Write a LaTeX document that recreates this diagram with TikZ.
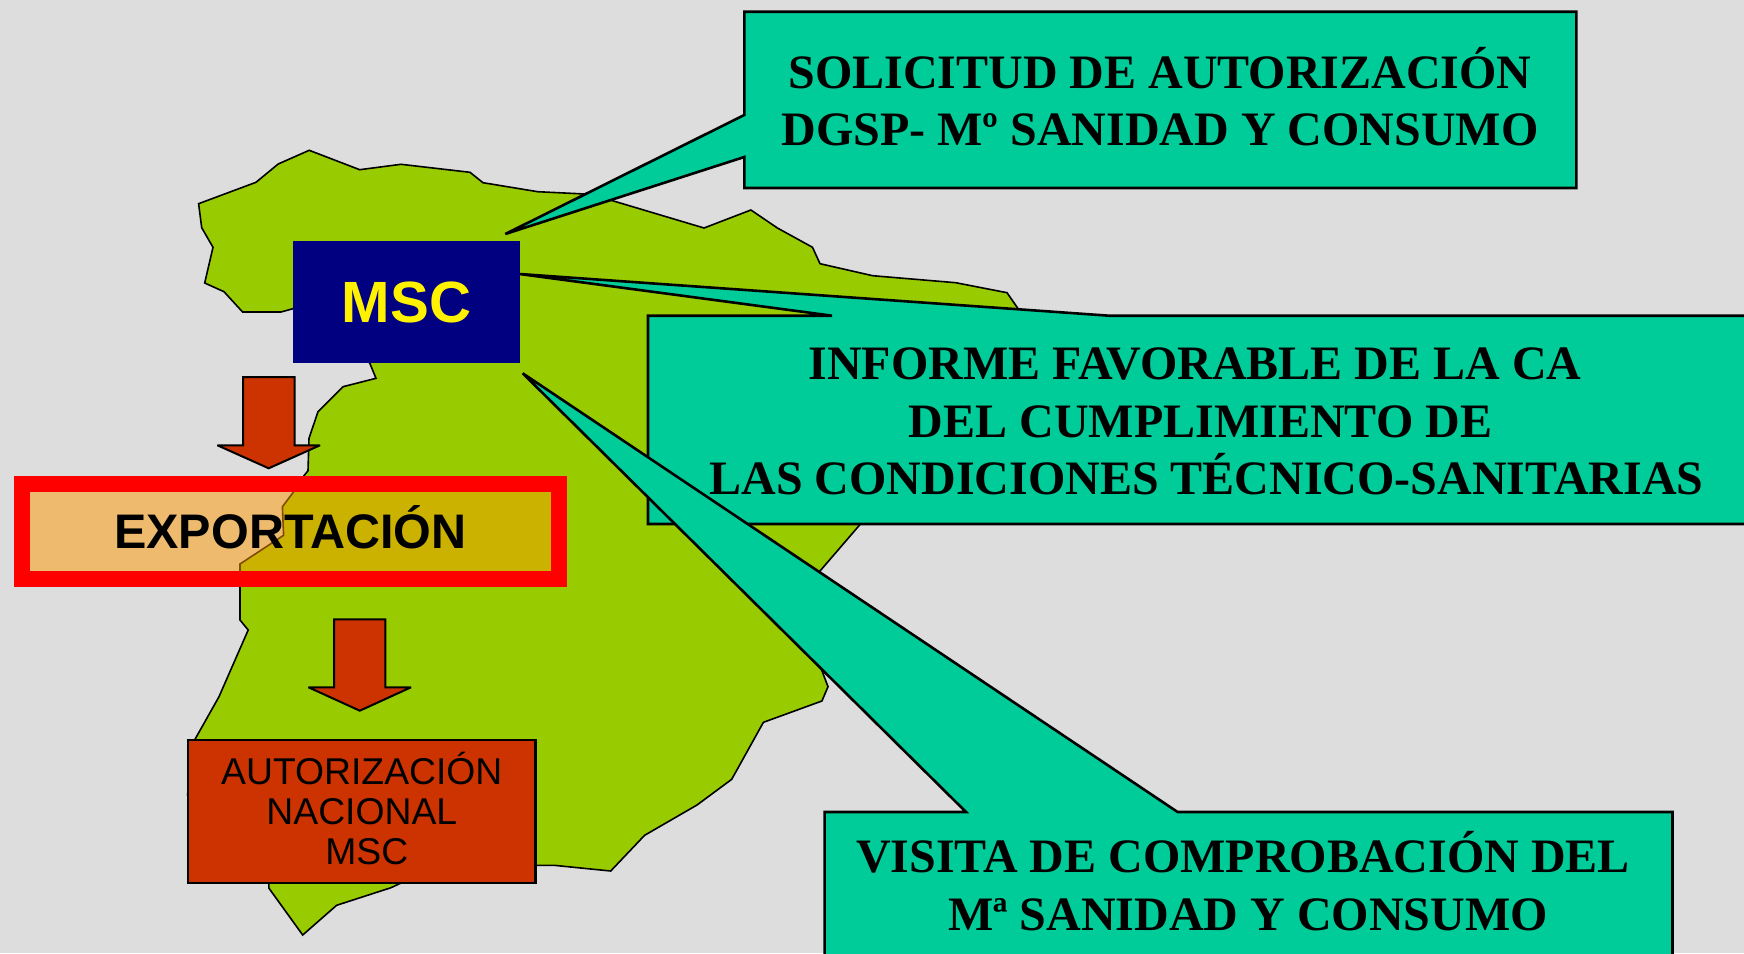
\documentclass[tikz,border=0pt]{standalone}
\usepackage{fontspec}
\setmainfont{Liberation Serif}
\setsansfont{Liberation Sans}
\definecolor{bgGrey}{HTML}{DDDDDD}
\definecolor{mapGreen}{HTML}{99CC00}
\definecolor{calloutTeal}{HTML}{00CC99}
\definecolor{mscNavy}{HTML}{000080}
\definecolor{rust}{HTML}{CC3300}
\definecolor{boxOrange}{HTML}{FF9900}
\newcommand{\lineshift}[1]{\rule{#1}{0pt}}
\tikzset{
  mapshape/.style={draw=black,fill=mapGreen,line width=1.6pt,line join=miter},
  callout/.style={draw=black,fill=calloutTeal,line width=2.6pt,miter limit=4},
  blockarrow/.style={draw=black,fill=rust,line width=2pt,miter limit=4},
  callouttext/.style={font=\bfseries\fontsize{48}{57.6}\selectfont,align=center,inner sep=0pt,text=black},
}
\begin{document}
\begin{tikzpicture}[x=1pt,y=-1pt]
\useasboundingbox (0,0) rectangle (1744,953);
\fill[bgGrey] (0,0) rectangle (1744,953);
\clip (0,0) rectangle (1744,953);
% map of Spain
\draw[mapshape] (198.6,203.7) -- (201.7,227.7) -- (213,247.3) -- (204.7,283) -- (224,291.7) -- (242.6,312) -- (281,312) -- (293,308.7)
 -- (369.7,363) -- (376,378.3) -- (343,386.7) -- (318,411.7) -- (309,438.3) -- (308,470.7) -- (304,475.7) -- (294,491.3) -- (282.4,506.7) -- (283.6,535.3) -- (240,564)
 -- (240,620) -- (248.2,630) -- (219,696.7) -- (194.6,740) -- (187.5,795) -- (268.8,883) -- (268.8,888) -- (302.7,935) -- (336.6,905.3) -- (391,887.7) -- (401,883)
 -- (536,865.3) -- (554,865.3) -- (610.7,871) -- (644.6,835.3) -- (697,805) -- (731.7,779.3) -- (763.4,722.3) -- (821.9,701) -- (828,686.7) -- (821,668.3)
 -- (800,620) -- (820,571) -- (859.6,525) -- (1017.8,308.3) -- (1007,292.7) -- (955.7,282.7) -- (872.6,275.7) -- (820,263.7) -- (812.5,247.3) -- (777.4,228) -- (750.9,210)
 -- (704,228) -- (612.5,200.7) -- (584.8,194) -- (537.7,191.7) -- (483,182.7) -- (470,172.3) -- (401,164.3) -- (359.7,169.7) -- (309.2,150.3) -- (278.2,164) -- (256,182.3) -- cycle;
% callouts
\draw[callout] (744.3,11.7) -- (1576.4,11.7) -- (1576.4,188) -- (744.3,188) -- (744.3,157) -- (505.3,234) -- (744.3,115) -- cycle;
\draw[callout] (648,315.7) -- (832,315.7) -- (519.5,274) -- (1109,315.7) -- (1760,315.7) -- (1760,524) -- (648,524) -- cycle;
\node[callouttext] (t1) at (1160,96.5) {SOLICITUD DE AUTORIZACIÓN\\DGSP- Mº SANIDAD Y CONSUMO};
\node[callouttext] (t2) at (1206.5,421.5) {INFORME FAVORABLE DE LA CA\lineshift{23pt}\\DEL CUMPLIMIENTO DE\lineshift{12pt}\\LAS CONDICIONES TÉCNICO-SANITARIAS};
% MSC box
\node[fill=mscNavy,text=yellow,minimum width=227pt,minimum height=122pt,inner sep=0pt,font=\sffamily\bfseries\fontsize{58.2}{62}\selectfont] (msc) at (406.5,302) {MSC};
% arrows
\draw[blockarrow] (243,377) -- (294.7,377) -- (294.7,445.3) -- (320,445.3) -- (268.7,468.3) -- (217.4,445.3) -- (243,445.3) -- cycle;
\draw[blockarrow] (334,619.3) -- (385.3,619.3) -- (385.3,687.3) -- (411,687.3) -- (359.8,710.7) -- (308.5,687.3) -- (334,687.3) -- cycle;
% export box
\node[draw=red,line width=16pt,fill=boxOrange,fill opacity=.5,text opacity=1,draw opacity=1,minimum width=537.5pt,minimum height=95.8pt,inner sep=0pt,font=\sffamily\bfseries\fontsize{48.5}{52}\selectfont] (exp) at (290.3,531.4) {\raisebox{8.8pt}{EXPORTACIÓN}};
% national authorisation box
\node[draw=black,fill=rust,line width=2.4pt,minimum width=347.5pt,minimum height=143pt,inner sep=0pt,align=center,font=\sffamily\fontsize{37.3}{40}\selectfont] (auth) at (361.8,811.5) {\raisebox{5.5pt}{AUTORIZACIÓN}\\\raisebox{5.5pt}{NACIONAL}\\\hspace*{10pt}\raisebox{5.5pt}{MSC}};
% bottom callout
\draw[callout] (824.6,812) -- (966,812) -- (522.7,373.3) -- (1177.6,812) -- (1672.5,812) -- (1672.5,975) -- (824.6,975) -- cycle;
\node[callouttext] (t3) at (1243,881) {VISITA DE COMPROBACIÓN DEL\\\hspace*{10pt}Mª SANIDAD Y CONSUMO};
\end{tikzpicture}
\end{document}
